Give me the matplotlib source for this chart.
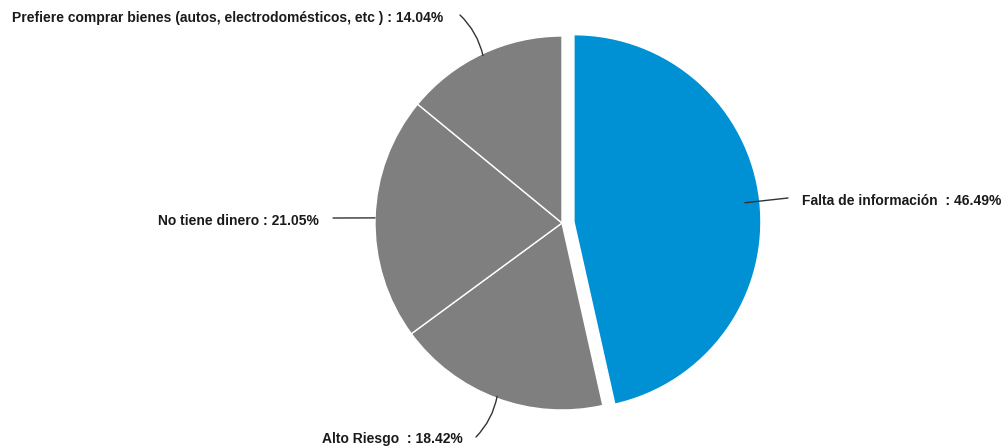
import numpy as np
import matplotlib.pyplot as plt

# reasons for not investing, shares in percent
categorias = ['Falta de información ', 'Alto Riesgo ', 'No tiene dinero', 'Prefiere comprar bienes (autos, electrodomésticos, etc )']
porcentajes = [46.49, 18.42, 21.05, 14.04]
colores = ['#0091d5', '#7f7f7f', '#7f7f7f', '#7f7f7f']

W, H = 1004, 446
fig = plt.figure(figsize=(W / 100, H / 100), dpi=100)
ax = fig.add_axes([0, 0, 1, 1])

cx, cy, r = 562, H - 223, 187
explode = [12, 0, 0, 0]
wedges, _ = ax.pie(porcentajes, colors=colores, startangle=90, counterclock=False,
                   center=(cx, cy), radius=r, explode=explode,
                   wedgeprops=dict(edgecolor='white', linewidth=1.0))
ax.set_xlim(0, W)
ax.set_ylim(0, H)
ax.set_aspect('equal')
ax.axis('off')

# label placement: text anchor (pixels from top-left), alignment, leader end, start radius, curvature
etiquetas = [
    dict(txt=(802, 201), ha='left', end=(788, 198), rin=0.92, rad=0.0),
    dict(txt=(463, 439), ha='right', end=(476, 437), rin=0.99, rad=0.15),
    dict(txt=(319, 221), ha='right', end=(333, 218), rin=1.0, rad=0.0),
    dict(txt=(12, 18), ha='left', end=(460, 15), rin=0.99, rad=-0.15),
]

for w, cat, val, lab in zip(wedges, categorias, porcentajes, etiquetas):
    ang = np.deg2rad((w.theta1 + w.theta2) / 2)
    wx, wy = w.center
    px = wx + w.r * lab['rin'] * np.cos(ang)
    py = wy + w.r * lab['rin'] * np.sin(ang)
    ex, ey = lab['end']
    ax.annotate('', xy=(px, py), xytext=(ex, H - ey),
                arrowprops=dict(arrowstyle='-', color='#333333', lw=1.0,
                                shrinkA=0, shrinkB=0,
                                connectionstyle='arc3,rad=%s' % lab['rad']))
    tx, ty = lab['txt']
    ax.text(tx, H - ty, '%s : %.2f%%' % (cat, val), ha=lab['ha'], va='center',
            fontsize=10, fontweight='bold', family='Liberation Sans', color='#1a1a1a')

fig.savefig('out.png', dpi=100)
